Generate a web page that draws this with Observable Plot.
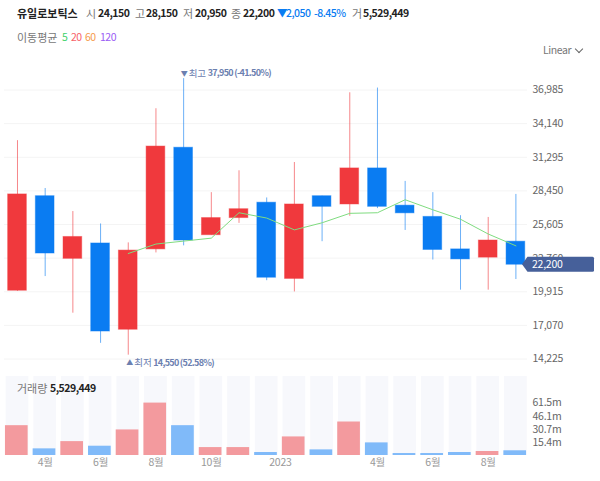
<!DOCTYPE html>
<html><head><meta charset="utf-8">
<script src="https://cdn.jsdelivr.net/npm/d3@7"></script>
<script src="https://cdn.jsdelivr.net/npm/@observablehq/plot@0.6"></script>
<style>
html,body{margin:0;padding:0;background:#fff;width:600px;height:481px;overflow:hidden}
body{position:relative;font-family:"Noto Sans CJK KR","Noto Sans",sans-serif;font-size:11px;color:#222}
.t{position:absolute;white-space:nowrap;line-height:14px}
.g{color:#777}.b{font-weight:700;color:#222}.u{color:#0a7cf2;font-weight:500}
.n{font-size:10.5px;letter-spacing:-.5px}
svg{position:absolute;left:0}
svg text{font-size:10.5px;letter-spacing:-.25px}
</style></head><body>
<div id="head"></div>
<script>
const months = ["2022-03","2022-04","2022-05","2022-06","2022-07","2022-08","2022-09","2022-10","2022-11","2022-12","2023-01","2023-02","2023-03","2023-04","2023-05","2023-06","2023-07","2023-08","2023-09"];
const open  = [20000,28000,22700,24000,16700,23500,32100,24700,26150,27450,21000,28000,27300,30350,27200,26250,23500,22800,24150];
const close = [28150,23150,24550,16550,23400,32200,24250,26150,26900,21100,27300,27100,30350,27100,26550,23450,22650,24250,22200];
const high  = [32700,28650,26700,25650,24050,35400,37950,28300,30150,27850,30850,28000,36750,37150,29250,28300,26350,26200,28150];
const low   = [19950,21200,18100,15550,14550,23200,23800,24700,25700,20850,19900,24150,26300,26950,25100,22600,20050,20050,20950];
const ma5   = [null,null,null,null,23150,23950,24200,24450,26600,26150,25150,25750,26550,26600,27700,26850,26050,24800,23800];
const volume= [35.0,7.8,16.3,10.9,30.0,61.5,35.0,9.3,9.3,3.5,21.8,6.6,39.3,14.8,2.3,2.3,3.5,4.7,5.53];
const priceTicks = [36985,34140,31295,28450,25605,22760,19915,17070,14225];
const volumeTicks = [15.4,30.7,46.1,61.5];
const monthTicks = {"2022-04":"4월","2022-06":"6월","2022-08":"8월","2022-10":"10월","2023-04":"4월","2023-06":"6월","2023-08":"8월"};
const yearTicks = {"2023-01":"2023"};

const RED="#f0393d", BLUE="#0a7cf2", RED_V="#f39a9e", BLUE_V="#80baf9";
const candles = months.map((m,i)=>({m,o:open[i],c:close[i],h:high[i],l:low[i],ma:ma5[i],v:volume[i],col:close[i]>=open[i]?RED:BLUE,vcol:close[i]>=open[i]?RED_V:BLUE_V}));
const xOpts = {type:"band",domain:months,range:[-1.35,533.75],padding:0.325,align:0.5,round:false,axis:null};
const font = '"Noto Sans CJK KR","Noto Sans",sans-serif';

const priceTag = (index,{y}) => {
  const yy = y(close[close.length-1]);
  const g = d3.create("svg:g");
  g.append("path").attr("fill","#46609a")
   .attr("d",`M522 ${yy}L527.5 ${yy-7.5}H592.5Q594 ${yy-7.5} 594 ${yy-6}V${yy+6}Q594 ${yy+7.5} 592.5 ${yy+7.5}H527.5Z`);
  g.append("text").attr("x",532).attr("y",yy).attr("dy","0.36em").attr("text-anchor","start").attr("fill","#fff").text(d3.format(",")(close[close.length-1]));
  return g.node();
};

const note = "#6c80b0";
const price = Plot.plot({
  width:600,height:310,marginLeft:4,marginRight:73,marginTop:29.5,marginBottom:11.5,
  style:{background:"transparent",fontFamily:font,overflow:"visible"},
  x:xOpts,
  y:{domain:[14225,36985],axis:null},
  marks:[
    Plot.gridY(priceTicks,{stroke:"#f4f4f4",strokeOpacity:1}),
    Plot.axisY(priceTicks,{anchor:"right",tickSize:0,tickPadding:5,tickFormat:d3.format(","),label:null,fill:"#666"}),
    Plot.ruleX(candles,{x:"m",y1:"l",y2:"h",stroke:"col",strokeOpacity:0.6,strokeWidth:1}),
    Plot.barY(candles,{x:"m",y1:"o",y2:"c",fill:"col",stroke:"col",strokeOpacity:0.45}),
    Plot.line(candles.filter(d=>d.ma!=null),{x:"m",y:"ma",stroke:"#7fdc80",strokeWidth:1,curve:"linear"}),
    Plot.text(["2022-09"],{x:d=>d,y:()=>37950,text:()=>"▼",fill:note,textAnchor:"start",dx:-3,dy:-5}),
    Plot.text(["2022-09"],{x:d=>d,y:()=>37950,text:()=>"최고",fill:note,textAnchor:"start",dx:5,dy:-5}),
    Plot.text(["2022-09"],{x:d=>d,y:()=>37950,text:()=>"37,950 (-41.50%)",fill:note,fontWeight:700,textAnchor:"start",dx:24,dy:-5}),
    Plot.text(["2022-07"],{x:d=>d,y:()=>14550,text:()=>"▲",fill:note,textAnchor:"start",dx:-2,dy:8}),
    Plot.text(["2022-07"],{x:d=>d,y:()=>14550,text:()=>"최저",fill:note,textAnchor:"start",dx:6,dy:8}),
    Plot.text(["2022-07"],{x:d=>d,y:()=>14550,text:()=>"14,550 (52.58%)",fill:note,fontWeight:700,textAnchor:"start",dx:25,dy:8}),
    priceTag
  ]
});
price.style.top="60px";
document.body.appendChild(price);
d3.select(price).selectAll("text").each(function(){
  const s=this.textContent;
  if(/%\)/.test(s)){this.style.fontSize="9px";this.style.letterSpacing="-0.7px";}
  else if(/[▼▲]/.test(s)){this.style.fontSize="7px";}
  else if(/최/.test(s)){this.style.fontSize="9.5px";this.style.letterSpacing="0";}
});

const vol = Plot.plot({
  width:600,height:111,marginLeft:4,marginRight:73,marginTop:6,marginBottom:26,
  style:{background:"transparent",fontFamily:font,overflow:"visible"},
  x:xOpts,
  y:{domain:[0,92.7],axis:null},
  marks:[
    Plot.barY(candles,{x:"m",y1:()=>0,y2:()=>92.7,fill:"#f7f8fc",insetLeft:-2,insetRight:-2}),
    Plot.barY(candles,{x:"m",y:"v",fill:"vcol",insetLeft:-2,insetRight:-2,dx:-0.7}),
    Plot.axisY(volumeTicks,{anchor:"right",tickSize:0,tickPadding:5,tickFormat:d=>d.toFixed(1)+"m",label:null,fill:"#666"}),
    Plot.axisX(Object.keys(monthTicks),{anchor:"bottom",tickSize:0,tickPadding:3,tickFormat:d=>monthTicks[d],label:null,fill:"#999"}),
    Plot.axisX(Object.keys(yearTicks),{anchor:"bottom",tickSize:0,tickPadding:3,tickFormat:d=>yearTicks[d],label:null,fill:"#999",dx:-14})
  ]
});
vol.style.top="370px";
document.body.appendChild(vol);

const headItems = [
  [17,13,"유일로보틱스","b"],[86,13,"시","g"],[98,13,"24,150","b n"],[135,13,"고","g"],[146,13,"28,150","b n"],
  [183,13,"저","g"],[195,13,"20,950","b n"],[231,13,"종","g"],[243,13,"22,200","b n"],
  [277,13,"▼","u n"],[286,13,"2,050","u n"],[314,13,"-8.45%","u n"],[352,13,"거","g"],[363,13,"5,529,449","b n"],
  [17,37,"이동평균","g"],[62,37,"5","m5"],[71,37,"20","m20"],[85,37,"60","m60"],[100,37,"120","m120"],
  [543,50,"Linear","g lin"],[17,388,"거래량","g"],[50,388,"5,529,449","b n"]
];
const maColors={m5:"#3ed26a",m20:"#f7626a",m60:"#f59a4a",m120:"#9a5cf5"};
for(const [x,y,s,c] of headItems){
  const e=document.createElement("div");
  e.className="t "+(maColors[c]?"n":c);
  if(maColors[c]) e.style.color=maColors[c];
  if(c==="g lin"){e.style.fontSize="10.5px";e.style.letterSpacing="-.4px";}
  e.style.left=x+"px"; e.style.top=(y-7)+"px"; e.textContent=s;
  document.body.appendChild(e);
}
const chev=document.createElement("div");
chev.style.cssText="position:absolute;left:576px;top:46px;width:5px;height:5px;border-right:1px solid #666;border-bottom:1px solid #666;transform:rotate(45deg)";
document.body.appendChild(chev);
</script>
</body></html>
